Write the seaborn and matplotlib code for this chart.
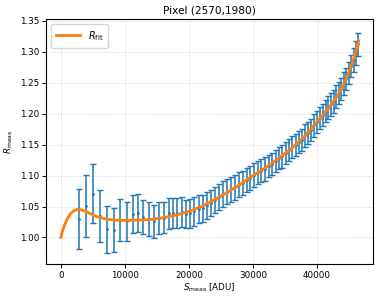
import matplotlib
matplotlib.use("Agg")
import matplotlib.pyplot as plt
import seaborn as sns
import pandas as pd

# Measured points
s_meas = [2860, 3950, 5050, 6140, 7240, 8280, 9270, 10270, 11200, 11980,
          12800, 13700, 14580, 15360, 16100, 16830,
          17520, 18200, 18870, 19540, 20200, 20860, 21510, 22160, 22800, 23440,
          24080, 24710, 25340, 25960, 26580, 27190, 27800, 28400, 29000, 29590,
          30170, 30750, 31320, 31880, 32440, 32990, 33530, 34070, 34600, 35120,
          35640, 36150, 36650, 37150, 37640, 38120, 38600, 39070, 39530, 39990,
          40440, 40880, 41320, 41750, 42170, 42590, 43000, 43400, 43800, 44190,
          44580, 44960, 45330, 45700, 46070, 46440]
r_meas = [1.030, 1.051, 1.071, 1.035, 1.013, 1.012, 1.028, 1.026, 1.038, 1.039,
          1.033, 1.030, 1.026, 1.032, 1.032, 1.039,
          1.040, 1.040, 1.041, 1.038, 1.039, 1.042, 1.046, 1.047, 1.052, 1.056,
          1.060, 1.066, 1.070, 1.074, 1.078, 1.081, 1.085, 1.088, 1.093, 1.096,
          1.101, 1.105, 1.108, 1.111, 1.116, 1.119, 1.124, 1.128, 1.131, 1.137,
          1.141, 1.146, 1.150, 1.154, 1.158, 1.165, 1.169, 1.174, 1.181, 1.187,
          1.193, 1.198, 1.204, 1.210, 1.215, 1.220, 1.228, 1.233, 1.240, 1.249,
          1.256, 1.266, 1.277, 1.287, 1.298, 1.312]
r_err = [0.048, 0.050, 0.048, 0.042, 0.038, 0.036, 0.034, 0.032, 0.031, 0.031,
         0.028, 0.027, 0.027, 0.026, 0.025, 0.025,
         0.024, 0.024, 0.024, 0.023, 0.023, 0.023, 0.022, 0.022, 0.022, 0.021,
         0.021, 0.021, 0.021, 0.020, 0.020, 0.020, 0.020, 0.020, 0.019, 0.019,
         0.019, 0.019, 0.019, 0.019, 0.018, 0.018, 0.018, 0.018, 0.018, 0.018,
         0.018, 0.018, 0.018, 0.018, 0.018, 0.018, 0.018, 0.018, 0.018, 0.018,
         0.018, 0.018, 0.018, 0.018, 0.018, 0.018, 0.018, 0.018, 0.018, 0.018,
         0.018, 0.018, 0.018, 0.019, 0.019, 0.019]

# Fit curve
s_fit = [0, 250, 500, 1000, 1500, 2000, 2600, 3200, 3800, 4500, 5500, 6500,
         7500, 8500, 10000, 12000, 14000, 16000, 18000, 20000, 22000, 24000,
         26000, 28000, 30000, 32000, 34000, 36000, 38000, 40000, 41000, 42000,
         43000, 44000, 45000, 45500, 46000, 46500]
r_fit = [1.000, 1.010, 1.018, 1.030, 1.038, 1.043, 1.0453, 1.0448, 1.0425,
         1.039, 1.034, 1.031, 1.029, 1.028, 1.0275, 1.028, 1.029, 1.032,
         1.036, 1.042, 1.050, 1.061, 1.073, 1.086, 1.100, 1.113, 1.128,
         1.144, 1.163, 1.187, 1.199, 1.212, 1.226, 1.244, 1.268, 1.282,
         1.298, 1.318]

plt.rcParams['font.family'] = ['DejaVu Sans']
plt.rcParams['font.size'] = 6.3
plt.rcParams['mathtext.fontset'] = 'dejavusans'

fig = plt.figure(figsize=(3.8, 2.99), dpi=100)
ax = fig.add_axes([0.121, 0.117, 0.861, 0.819])

ax.errorbar(s_meas, r_meas, yerr=r_err, fmt='.', color='#1f77b4',
            markersize=2, elinewidth=1.1, capsize=2.3, capthick=1.0, zorder=2)

fit_df = pd.DataFrame({'S': s_fit, 'R': r_fit})
sns.lineplot(data=fit_df, x='S', y='R', ax=ax, color='#ff7f0e', linewidth=2,
             label=r'$R_\mathrm{fit}$', zorder=3)

ax.grid(True, linestyle=(0, (2, 2)), color='#d0d0d0', linewidth=0.5)
ax.set_axisbelow(True)
ax.set_xlim(-2320, 48760)
ax.set_ylim(0.957, 1.353)
ax.set_xticks([0, 10000, 20000, 30000, 40000])
ax.set_yticks([1.00, 1.05, 1.10, 1.15, 1.20, 1.25, 1.30, 1.35])
ax.set_xlabel(r'$S_\mathrm{meas}$ [ADU]', labelpad=1)
ax.set_ylabel(r'$R_\mathrm{meas}$', labelpad=3)
ax.set_title('Pixel (2570,1980)', fontsize=7.6, pad=4)
ax.tick_params(length=3, width=0.7, pad=2)
for sp in ax.spines.values():
    sp.set_linewidth(0.8)
ax.legend(loc='upper left', fontsize=7, handlelength=2.5, borderpad=0.5)

fig.savefig('out.png', dpi=100)
